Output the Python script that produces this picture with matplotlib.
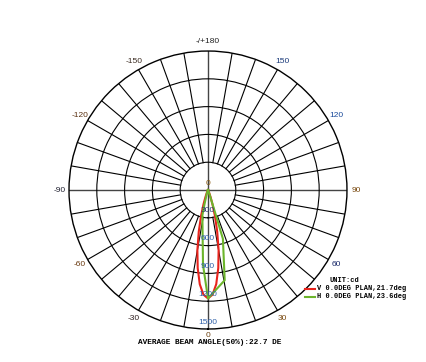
import matplotlib
matplotlib.use("Agg")
import matplotlib.pyplot as plt
import numpy as np
from matplotlib.lines import Line2D

# Dane (kąt w stopniach, natężenie w cd)
v_angles = [-40, -30, -25, -20, -17.5, -15, -12.5, -10, -7.5, -5, -2.5, 0,
            2.5, 5, 7.5, 10, 12.5, 15, 17.5, 20, 25, 30, 40]
v_values = [0, 8, 25, 80, 160, 290, 460, 660, 850, 1020, 1130, 1170,
            1130, 1020, 850, 660, 460, 290, 160, 80, 25, 8, 0]

h_angles = [-40, -30, -18, -14, -12.5, -3.8, 0, 10.5, 17, 17.5, 19, 30, 40]
h_values = [0, 5, 40, 150, 280, 810, 1170, 990, 550, 250, 60, 5, 0]

series_labels = ["V 0.0DEG PLAN,21.7deg", "H 0.0DEG PLAN,23.6deg"]
series_colors = ["#e8231c", "#6cb52c"]

r_ticks = [300, 600, 900, 1200]
r_labels = ["0", "300", "600", "900", "1200", "1500"]
r_label_colors = ["#8a5a10", "#2a3a6a", "#3060a8", "#3060a8", "#3060a8", "#3060a8"]

ang_ticks = [0, 30, 60, 90, 120, 150, 180, -150, -120, -90, -60, -30]
ang_labels = ["0", "30", "60", "90", "120", "150", "-/+180",
              "-150", "-120", "-90", "-60", "-30"]
ang_colors = ["#6a4010", "#7a4a10", "#1a2a6a", "#7a4a10", "#1a4a9a", "#1a3a7a",
              "#222222", "#3a2a20", "#5a3010", "#202030", "#6a3a10", "#302020"]

title_text = "AVERAGE BEAM ANGLE(50%):22.7 DE"
unit_text = "UNIT:cd"

fig = plt.figure(figsize=(4.27, 3.62), dpi=100)
ax = fig.add_axes([0.1616, 0.0911, 0.651, 0.768], projection="polar")
ax.set_theta_zero_location("S")
ax.set_theta_direction(1)
ax.set_ylim(0, 1500)

ax.set_xticks([])
ax.set_yticks(r_ticks)
ax.set_yticklabels([])
ax.grid(False)
ax.yaxis.grid(True, color="black", linewidth=0.8)
ax.spines["polar"].set_linewidth(1.0)

# szprychy co 10 stopni
for a in range(0, 360, 10):
    t = np.deg2rad(a)
    if a % 90 == 0:
        ax.plot([t, t], [0, 1500], color="#444444", linewidth=1.0, zorder=1)
    else:
        ax.plot([t, t], [300, 1500], color="black", linewidth=0.8, zorder=1)

# krzywe
ax.plot(np.deg2rad(v_angles), v_values, color=series_colors[0], linewidth=1.5, zorder=3)
ax.plot(np.deg2rad(h_angles), h_values, color=series_colors[1], linewidth=1.5, zorder=4)

# etykiety radialne
for i, lab in enumerate(r_labels):
    ax.annotate(lab, xy=(0, i * 300), xytext=(0, 5), textcoords="offset points",
                ha="center", va="center", fontsize=6, color=r_label_colors[i],
                family="Liberation Sans", zorder=5)

# etykiety kątowe
for a, lab, c in zip(ang_ticks, ang_labels, ang_colors):
    r = 1570 if a == 0 else 1600
    ax.text(np.deg2rad(a), r, lab, ha="center", va="center", fontsize=6,
            color=c, family="Liberation Sans")

# legenda
fig.text(0.8056, 0.2238, unit_text, ha="center", va="center", fontsize=5.0,
         family="Liberation Mono", weight="bold")
for i, lab in enumerate(series_labels):
    y = 0.2017 - i * 0.0221
    fig.add_artist(Line2D([0.7143, 0.7377], [y, y], color=series_colors[i], linewidth=1.5))
    fig.text(0.7424, y, lab, ha="left", va="center", fontsize=5.0,
             family="Liberation Mono", weight="bold")

fig.text(0.4918, 0.0525, title_text, ha="center", va="center", fontsize=5.6,
         family="Liberation Mono", weight="bold")

fig.savefig("out.png", dpi=100)
